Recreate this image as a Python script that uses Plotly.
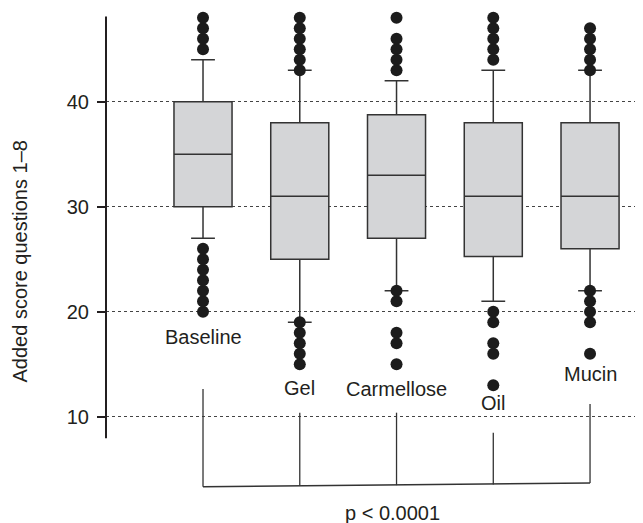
import plotly.graph_objects as go

# ---- data ----
categories = ["Baseline", "Gel", "Carmellose", "Oil", "Mucin"]
q1 = [30, 25, 27, 25.25, 26]
median = [35, 31, 33, 31, 31]
q3 = [40, 38, 38.75, 38, 38]
lower_whisker = [27, 19, 22, 21, 22]
upper_whisker = [44, 43, 42, 43, 43]
outliers = {
    "Baseline": [45, 46, 47, 48, 20, 21, 22, 23, 24, 25, 26],
    "Gel": [43, 44, 45, 46, 47, 48, 15, 16, 17, 18, 19],
    "Carmellose": [43, 44, 45, 46, 48, 15, 17, 18, 21, 22],
    "Oil": [44, 45, 46, 47, 48, 13, 16, 17, 19, 20],
    "Mucin": [43, 44, 45, 46, 47, 16, 19, 20, 21, 22],
}
label_y = [17.6, 12.7, 12.6, 11.3, 14.1]
bracket_top = [12.64, 10.38, 10.38, 8.48, 11.21]
bracket_bottom = [3.33, 3.42, 3.48, 3.55, 3.69]
y_ticks = [10, 20, 30, 40]
y_title = "Added score questions 1\u20138"
p_text = "p < 0.0001"

FONT = "Liberation Sans, Arial, sans-serif"
INK = "#231f20"
FS = 20

fig = go.Figure()

fig.add_trace(go.Box(
    x=categories, q1=q1, median=median, q3=q3,
    lowerfence=lower_whisker, upperfence=upper_whisker,
    boxpoints=False, width=0.6, whiskerwidth=0.41,
    fillcolor="#d4d5d7", line=dict(color="#333333", width=1.5),
    showlegend=False, hoverinfo="skip",
))

ox, oy = [], []
for c in categories:
    for v in outliers[c]:
        ox.append(c)
        oy.append(v)
fig.add_trace(go.Scatter(
    x=ox, y=oy, mode="markers",
    marker=dict(size=12, color="#1c1c1c", line=dict(width=0)),
    showlegend=False, hoverinfo="skip",
))

# category labels
for i, c in enumerate(categories):
    fig.add_annotation(x=c, y=label_y[i], xref="x", yref="y", text=c,
                       showarrow=False, xanchor="center", yanchor="middle",
                       font=dict(family=FONT, size=FS, color=INK))

# bracket
shapes = []
for i in range(len(categories)):
    shapes.append(dict(type="line", xref="x", yref="y", x0=i, x1=i,
                       y0=bracket_top[i], y1=bracket_bottom[i],
                       line=dict(color="#333333", width=1.3)))
shapes.append(dict(type="line", xref="x", yref="y", x0=0, x1=len(categories) - 1,
                   y0=bracket_bottom[0], y1=bracket_bottom[-1],
                   line=dict(color="#333333", width=1.5)))
# y axis line
shapes.append(dict(type="line", xref="paper", yref="y", x0=0, x1=0,
                   y0=48.1, y1=7.95, line=dict(color=INK, width=2)))

fig.add_annotation(x=0.5266, y=0.034, xref="paper", yref="paper", text=p_text,
                   showarrow=False, xanchor="center", yanchor="middle",
                   font=dict(family=FONT, size=FS, color=INK))
fig.add_annotation(x=-0.1578, y=0.5153, xref="paper", yref="paper", text=y_title,
                   textangle=-90, showarrow=False, xanchor="center", yanchor="middle",
                   font=dict(family=FONT, size=FS, color=INK))

fig.update_layout(
    width=643, height=523,
    margin=dict(l=98, r=0, t=0, b=0),
    paper_bgcolor="white", plot_bgcolor="white",
    shapes=shapes,
    font=dict(family=FONT, size=FS, color=INK),
    xaxis=dict(range=[-1.0026, 4.630], showgrid=False, zeroline=False,
               showticklabels=False, showline=False, ticks=""),
    yaxis=dict(range=[-0.886, 48.92], tickvals=y_ticks, ticktext=[str(t) for t in y_ticks],
               showgrid=True, gridcolor="#444444", griddash="dot", gridwidth=1,
               zeroline=False, showline=False, ticks="outside", ticklen=8,
               tickwidth=1.5, tickcolor=INK, ticklabelstandoff=4,
               tickfont=dict(family=FONT, size=FS, color=INK)),
)

fig.write_html("out.html")
